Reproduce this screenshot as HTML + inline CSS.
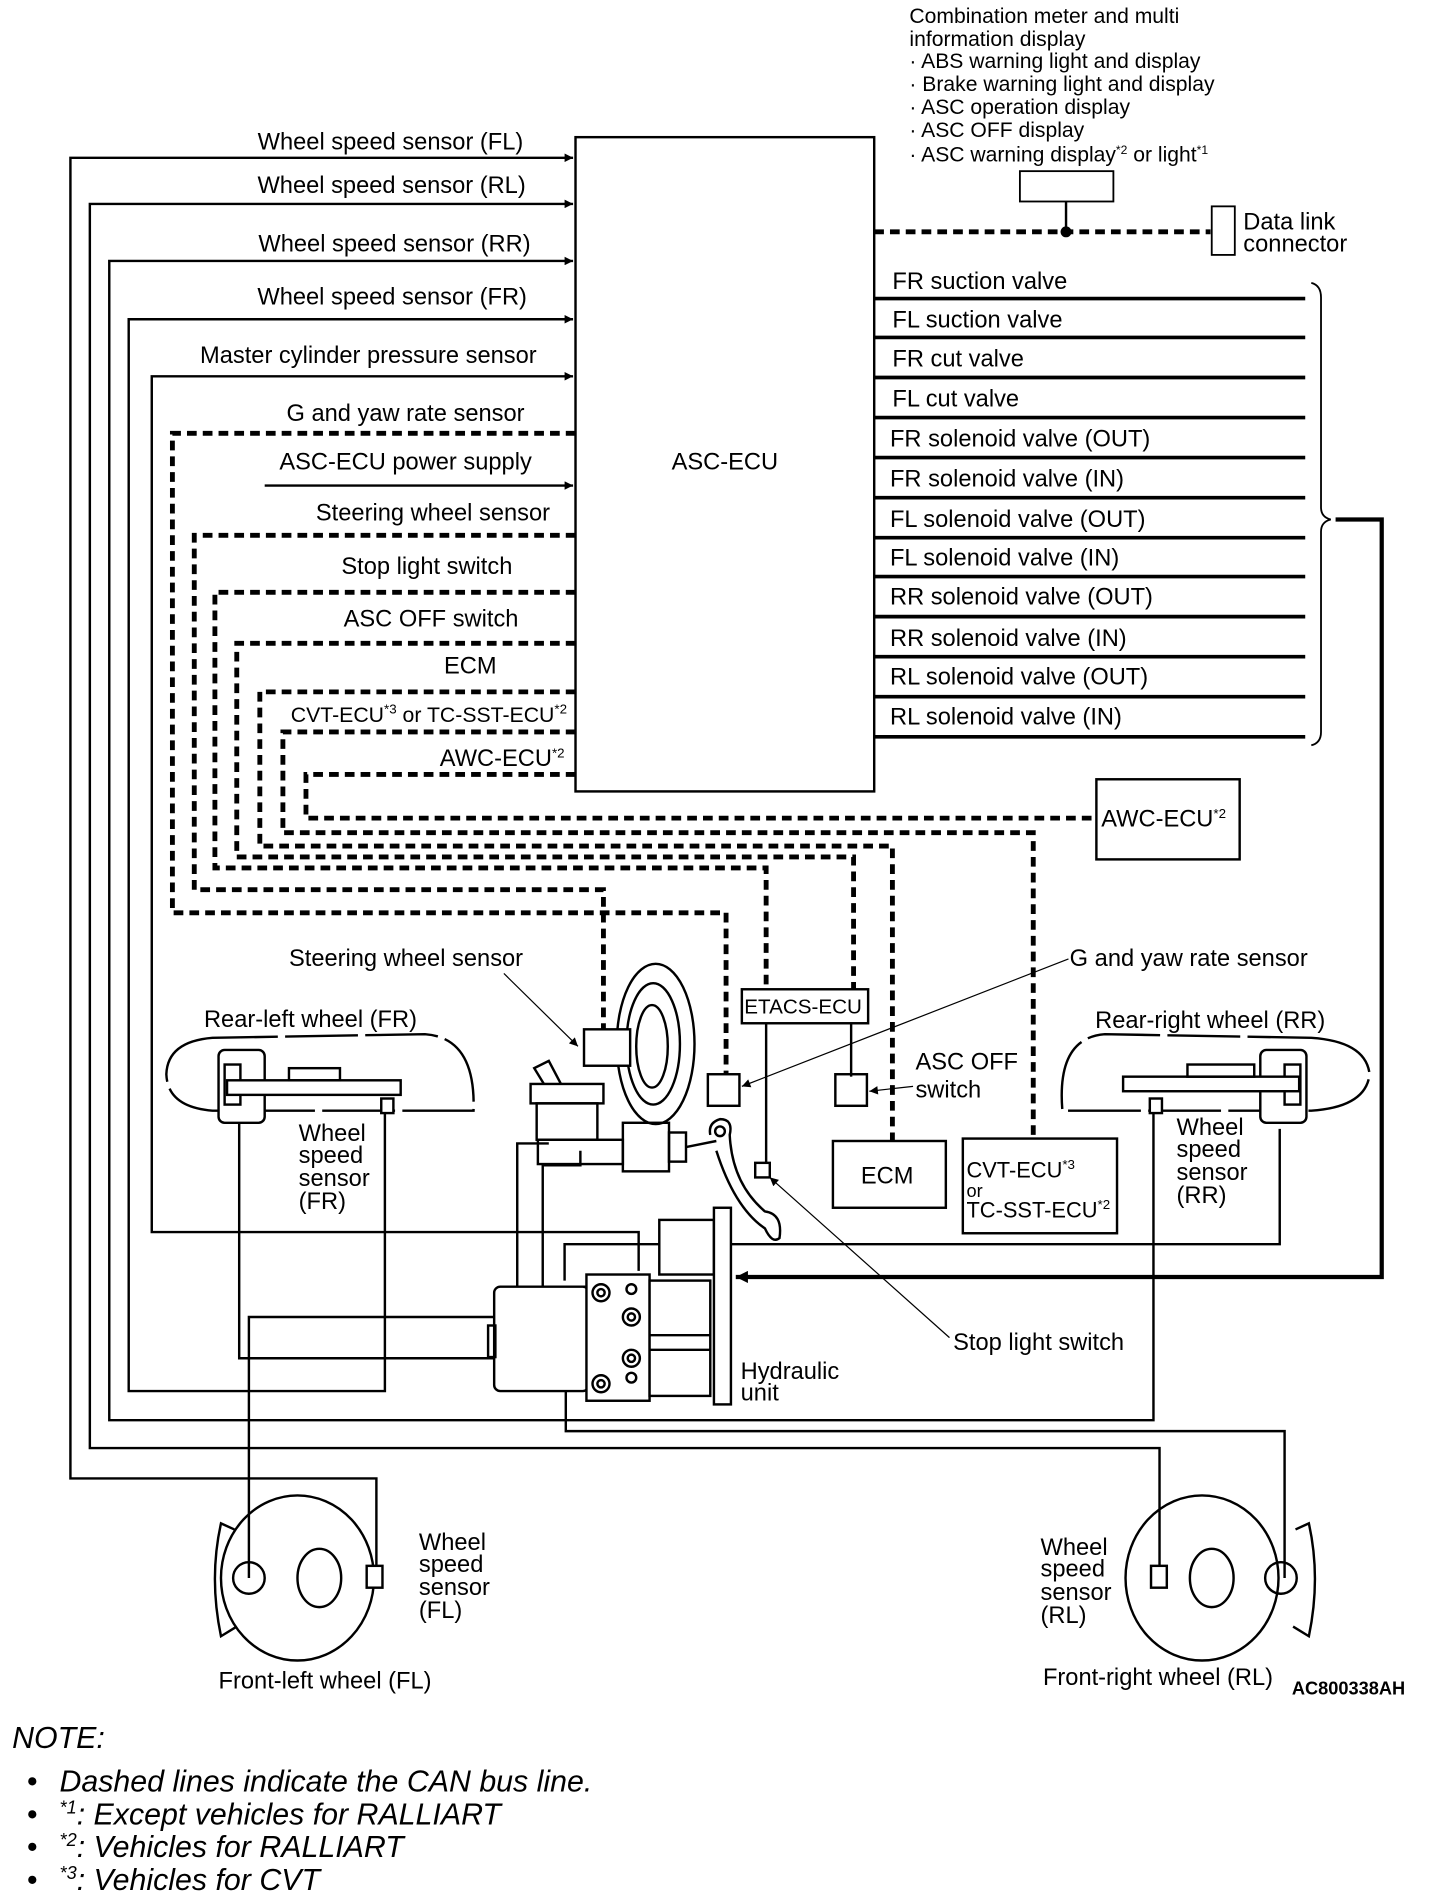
<!DOCTYPE html>
<html><head><meta charset="utf-8"><style>
html,body{margin:0;padding:0;background:#fff;}
svg{display:block;}
text{font-family:"Liberation Sans",sans-serif;fill:#000;}
</style></head><body>
<svg width="1440" height="1896" viewBox="0 0 1186 1562" preserveAspectRatio="none" xmlns="http://www.w3.org/2000/svg">
<defs>
<marker id="ar" viewBox="0 0 10 10" refX="10" refY="5" markerWidth="9" markerHeight="7" orient="auto" markerUnits="userSpaceOnUse"><path d="M0,0 L10,5 L0,10 z" fill="#000"/></marker>
<marker id="ar2" viewBox="0 0 10 10" refX="10" refY="5" markerWidth="18" markerHeight="10" orient="auto" markerUnits="userSpaceOnUse"><path d="M0,0 L10,5 L0,10 z" fill="#000"/></marker>
</defs>
<g font-size="19.5">
<g font-size="17.4">
<text x="749" y="19">Combination meter and multi</text>
<text x="749" y="38">information display</text>
<text x="749" y="56">· ABS warning light and display</text>
<text x="749" y="75">· Brake warning light and display</text>
<text x="749" y="94">· ASC operation display</text>
<text x="749" y="113">· ASC OFF display</text>
<text x="749" y="133">· ASC warning display<tspan font-size="10" dy="-6">*2</tspan><tspan dy="6"> or light</tspan><tspan font-size="10" dy="-6">*1</tspan></text>
</g>
<rect x="840" y="141" width="77" height="25" fill="none" stroke="#000" stroke-width="1.5"/>
<line x1="720" y1="191" x2="997" y2="191" stroke="#000" stroke-width="4" stroke-dasharray="8 5"/>
<line x1="878" y1="166" x2="878" y2="191" stroke="#000" stroke-width="2"/>
<circle cx="878" cy="191" r="4.5"/>
<rect x="998" y="170" width="19" height="40" fill="#fff" stroke="#000" stroke-width="1.5"/>
<text x="1024" y="189">Data link</text>
<text x="1024" y="207">connector</text>

<rect x="474" y="113" width="246" height="539" fill="none" stroke="#000" stroke-width="2"/>
<text x="597" y="387" text-anchor="middle">ASC-ECU</text>

<g stroke="#000" stroke-width="2" fill="none">
<polyline points="310,1300 310,1218 58,1218 58,130 472,130" marker-end="url(#ar)"/>
<polyline points="955,1297 955,1193 74,1193 74,168 472,168" marker-end="url(#ar)"/>
<polyline points="950,915 950,1170 90,1170 90,215 472,215" marker-end="url(#ar)"/>
<polyline points="317,915 317,1146 106,1146 106,263 472,263" marker-end="url(#ar)"/>
<polyline points="526,1047 526,1015 125,1015 125,310 472,310" marker-end="url(#ar)"/>
<polyline points="218,400 472,400" marker-end="url(#ar)"/>
</g>
<g text-anchor="end">
<text x="431" y="123">Wheel speed sensor (FL)</text>
<text x="433" y="159">Wheel speed sensor (RL)</text>
<text x="437" y="207">Wheel speed sensor (RR)</text>
<text x="434" y="251">Wheel speed sensor (FR)</text>
<text x="442" y="299">Master cylinder pressure sensor</text>
<text x="432" y="347">G and yaw rate sensor</text>
<text x="438" y="387">ASC-ECU power supply</text>
<text x="453" y="429">Steering wheel sensor</text>
<text x="422" y="473">Stop light switch</text>
<text x="427" y="516">ASC OFF switch</text>
<text x="409" y="555">ECM</text>
<text x="467" y="595" font-size="17.5">CVT-ECU<tspan font-size="11" dy="-7">*3</tspan><tspan dy="7"> or TC-SST-ECU</tspan><tspan font-size="11" dy="-7">*2</tspan></text>
<text x="465" y="631">AWC-ECU<tspan font-size="11" dy="-7">*2</tspan></text>
</g>

<g stroke="#000" stroke-width="4" stroke-dasharray="8 5" fill="none">
<polyline points="474,357 142,357 142,752 598,752 598,885"/>
<polyline points="474,441 160,441 160,733 497,733 497,848"/>
<polyline points="474,488 177,488 177,715 631,715 631,815"/>
<polyline points="474,530 195,530 195,706 703,706 703,815"/>
<polyline points="474,570 214,570 214,697 735,697 735,940"/>
<polyline points="474,603 233,603 233,686 851,686 851,938"/>
<polyline points="474,638 252,638 252,674 903,674"/>
</g>
<rect x="903" y="642" width="118" height="66" fill="none" stroke="#000" stroke-width="2"/>
<text x="907" y="681">AWC-ECU<tspan font-size="11" dy="-7">*2</tspan></text>

<g stroke="#000" stroke-width="3">
<line x1="720" y1="246" x2="1075" y2="246"/><line x1="720" y1="278" x2="1075" y2="278"/>
<line x1="720" y1="311" x2="1075" y2="311"/><line x1="720" y1="344" x2="1075" y2="344"/>
<line x1="720" y1="377" x2="1075" y2="377"/><line x1="720" y1="410" x2="1075" y2="410"/>
<line x1="720" y1="443" x2="1075" y2="443"/><line x1="720" y1="475" x2="1075" y2="475"/>
<line x1="720" y1="508" x2="1075" y2="508"/><line x1="720" y1="541" x2="1075" y2="541"/>
<line x1="720" y1="574" x2="1075" y2="574"/><line x1="720" y1="607" x2="1075" y2="607"/>
</g>
<g>
<text x="735" y="238">FR suction valve</text>
<text x="735" y="270">FL suction valve</text>
<text x="735" y="302">FR cut valve</text>
<text x="735" y="335">FL cut valve</text>
<text x="733" y="368">FR solenoid valve (OUT)</text>
<text x="733" y="401">FR solenoid valve (IN)</text>
<text x="733" y="434">FL solenoid valve (OUT)</text>
<text x="733" y="466">FL solenoid valve (IN)</text>
<text x="733" y="498">RR solenoid valve (OUT)</text>
<text x="733" y="532">RR solenoid valve (IN)</text>
<text x="733" y="564">RL solenoid valve (OUT)</text>
<text x="733" y="597">RL solenoid valve (IN)</text>
</g>
<path d="M1080,233 Q1088,235 1088,245 L1088,418 Q1088,426 1096,428 Q1088,430 1088,438 L1088,603 Q1088,612 1080,614" fill="none" stroke="#000" stroke-width="1.5"/>
<polyline points="1100,428 1138,428 1138,1052 606,1052" fill="none" stroke="#000" stroke-width="3.5" marker-end="url(#ar2)"/>

<rect x="611" y="815" width="104" height="28" fill="#fff" stroke="#000" stroke-width="2"/>
<text x="613" y="835" font-size="17">ETACS-ECU</text>
<g stroke="#000" stroke-width="2" fill="none">
<line x1="631" y1="843" x2="631" y2="960"/>
<line x1="701" y1="843" x2="701" y2="887"/>
<rect x="583" y="885" width="26" height="26"/>
<rect x="688" y="885" width="26" height="26"/>
<rect x="686" y="940" width="93" height="55"/>
<rect x="793" y="938" width="127" height="78"/>
</g>
<text x="709" y="975">ECM</text>
<text x="796" y="970" font-size="18">CVT-ECU<tspan font-size="11" dy="-7">*3</tspan></text>
<text x="796" y="986" font-size="15">or</text>
<text x="796" y="1003" font-size="18">TC-SST-ECU<tspan font-size="11" dy="-7">*2</tspan></text>
<text x="754" y="881">ASC OFF</text>
<text x="754" y="904">switch</text>
<line x1="752" y1="895" x2="716" y2="899" stroke="#000" stroke-width="1" marker-end="url(#ar)"/>
<text x="881" y="796">G and yaw rate sensor</text>
<line x1="880" y1="790" x2="611" y2="895" stroke="#000" stroke-width="1" marker-end="url(#ar)"/>
<text x="238" y="796">Steering wheel sensor</text>
<line x1="415" y1="802" x2="476" y2="862" stroke="#000" stroke-width="1" marker-end="url(#ar)"/>
<text x="785" y="1112">Stop light switch</text>
<line x1="782" y1="1102" x2="634" y2="970" stroke="#000" stroke-width="1" marker-end="url(#ar)"/>

<g stroke="#000" stroke-width="2" fill="#fff">
<ellipse cx="540" cy="860" rx="32" ry="66"/>
<ellipse cx="538" cy="860" rx="22" ry="50"/>
<ellipse cx="537" cy="862" rx="13" ry="34"/>
<rect x="481" y="848" width="38" height="30"/>
</g>
<g stroke="#000" stroke-width="2" fill="none">
<rect x="622" y="958" width="12" height="12" fill="#fff"/>
<path d="M585,935 Q583,925 593,922 Q604,922 601,935 Q603,975 630,998 Q645,1000 642,1020 Q636,1025 630,1012 Q605,995 590,948"/>
<circle cx="593" cy="932" r="4"/>
<rect x="437" y="893" width="60" height="16"/>
<rect x="442" y="909" width="50" height="30"/>
<path d="M448,893 L440,880 L452,874 L462,893"/>
<rect x="443" y="939" width="70" height="20"/>
<rect x="513" y="925" width="38" height="40"/>
<rect x="551" y="933" width="14" height="24"/>
<line x1="565" y1="945" x2="590" y2="940"/>
<polyline points="452,942 426,942 426,1060 484,1060"/>
<polyline points="478,948 478,960 447,960 447,1140 484,1140"/>
<path d="M175,855 Q138,858 137,885 Q138,912 175,915 L390,915 Q392,855 350,852 Z" stroke-dasharray="60 6"/>
<rect x="180" y="865" width="38" height="60" rx="5" fill="#fff"/>
<rect x="185" y="877" width="13" height="33" fill="#fff"/>
<rect x="187" y="890" width="143" height="12" fill="#fff"/>
<rect x="238" y="880" width="42" height="10"/>
<rect x="314" y="905" width="10" height="12" fill="#fff"/>
<path d="M1080,855 Q1125,858 1128,885 Q1125,912 1080,915 L875,915 Q870,855 910,852 Z" stroke-dasharray="60 6"/>
<rect x="1038" y="865" width="38" height="60" rx="5" fill="#fff"/>
<rect x="1058" y="877" width="13" height="33" fill="#fff"/>
<rect x="925" y="887" width="145" height="12" fill="#fff"/>
<rect x="978" y="877" width="55" height="10"/>
<rect x="947" y="905" width="10" height="12" fill="#fff"/>
<polyline points="197,925 197,1119 520,1119"/>
<polyline points="205,1300 205,1085 520,1085"/>
<polyline points="465,1055 465,1025 1054,1025 1054,930"/>
<polyline points="490,1145 466,1145 466,1179 1058,1179 1058,1300"/>
<rect x="407" y="1060" width="78" height="86" rx="5" fill="#fff"/>
<rect x="402" y="1092" width="6" height="26"/>
<rect x="483" y="1050" width="52" height="104" fill="#fff"/>
<rect x="535" y="1055" width="50" height="95" fill="#fff"/>
<rect x="543" y="1005" width="45" height="45" fill="#fff"/>
<rect x="588" y="995" width="14" height="162" fill="#fff"/>
<line x1="535" y1="1100" x2="585" y2="1100"/>
<line x1="535" y1="1112" x2="585" y2="1112"/>
<circle cx="495" cy="1065" r="7"/><circle cx="495" cy="1065" r="3"/>
<circle cx="520" cy="1085" r="7"/><circle cx="520" cy="1085" r="3"/>
<circle cx="520" cy="1119" r="7"/><circle cx="520" cy="1119" r="3"/>
<circle cx="495" cy="1140" r="7"/><circle cx="495" cy="1140" r="3"/>
<circle cx="520" cy="1062" r="4"/><circle cx="520" cy="1135" r="4"/>
<ellipse cx="245" cy="1300" rx="63" ry="68"/>
<ellipse cx="263" cy="1300" rx="18" ry="24"/>
<circle cx="205" cy="1300" r="13"/>
<path d="M193,1260 L182,1255 Q172,1300 182,1348 L195,1340"/>
<rect x="302" y="1290" width="13" height="18" fill="#fff"/>
<ellipse cx="990" cy="1300" rx="63" ry="68"/>
<ellipse cx="998" cy="1300" rx="18" ry="24"/>
<circle cx="1055" cy="1300" r="13"/>
<path d="M1067,1260 L1078,1255 Q1088,1300 1078,1348 L1065,1340"/>
<rect x="948" y="1290" width="13" height="18" fill="#fff"/>
</g>
<text x="168" y="846">Rear-left wheel (FR)</text>
<text x="902" y="847">Rear-right wheel (RR)</text>
<g>
<text x="246" y="940">Wheel</text><text x="246" y="958">speed</text><text x="246" y="977">sensor</text><text x="246" y="996">(FR)</text>
<text x="969" y="935">Wheel</text><text x="969" y="953">speed</text><text x="969" y="972">sensor</text><text x="969" y="991">(RR)</text>
<text x="610" y="1136">Hydraulic</text><text x="610" y="1154">unit</text>
<text x="345" y="1277">Wheel</text><text x="345" y="1295">speed</text><text x="345" y="1314">sensor</text><text x="345" y="1333">(FL)</text>
<text x="857" y="1281">Wheel</text><text x="857" y="1299">speed</text><text x="857" y="1318">sensor</text><text x="857" y="1337">(RL)</text>
<text x="180" y="1391">Front-left wheel (FL)</text>
<text x="859" y="1388">Front-right wheel (RL)</text>
<text x="1064" y="1396" font-size="15" font-weight="bold">AC800338AH</text>
</g>
<g font-style="italic" font-size="25">
<text x="10" y="1440">NOTE:</text>
<text x="22" y="1476">•</text><text x="49" y="1476">Dashed lines indicate the CAN bus line.</text>
<text x="22" y="1503">•</text><text x="49" y="1503"><tspan font-size="15" dy="-9">*1</tspan><tspan dy="9">: Except vehicles for RALLIART</tspan></text>
<text x="22" y="1530">•</text><text x="49" y="1530"><tspan font-size="15" dy="-9">*2</tspan><tspan dy="9">: Vehicles for RALLIART</tspan></text>
<text x="22" y="1557">•</text><text x="49" y="1557"><tspan font-size="15" dy="-9">*3</tspan><tspan dy="9">: Vehicles for CVT</tspan></text>
</g>
</g>
</svg>
</body></html>
